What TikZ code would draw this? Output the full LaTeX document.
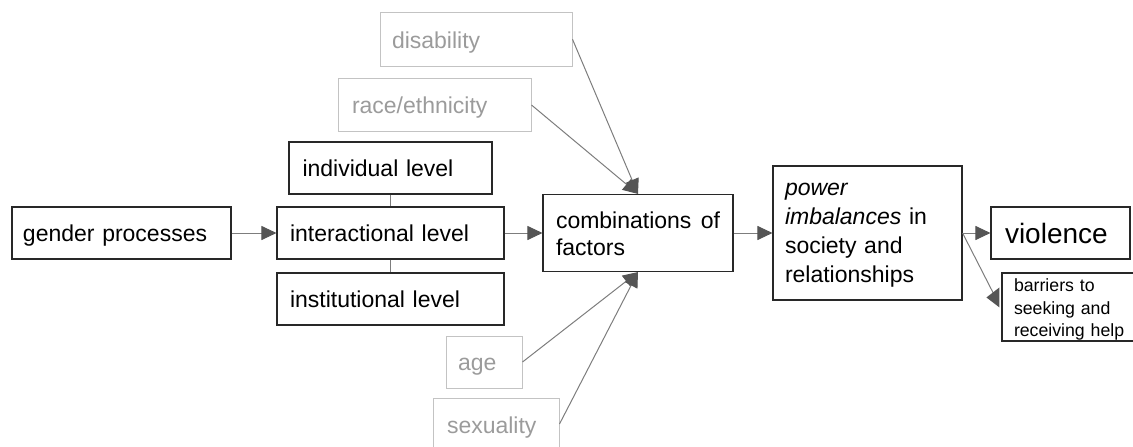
\documentclass[tikz,border=0pt]{standalone}
\usepackage{fontspec}
\setmainfont{Liberation Sans}
\usetikzlibrary{arrows.meta,calc}
\definecolor{boxline}{RGB}{40,40,40}
\definecolor{graytext}{RGB}{155,155,155}
\definecolor{grayline}{RGB}{195,195,195}
\definecolor{connline}{RGB}{125,125,125}
\definecolor{headfill}{RGB}{85,85,85}
\newcommand\fmain{\fontsize{23}{27}\selectfont}
\newcommand\fpower{\fontsize{23}{29.3}\selectfont}
\newcommand\fviol{\fontsize{28}{33}\selectfont}
\newcommand\fsmall{\fontsize{17.7}{22.5}\selectfont}
\begin{document}
\begin{tikzpicture}[x=1pt,y=-1pt,
  box/.style={draw=boxline, line width=1.1pt, rectangle, align=left, inner ysep=0pt, font=\fmain, text=black},
  gbox/.style={box, draw=grayline, line width=1pt, text=graytext},
  one/.style={text height=16pt, text depth=0pt},
  conn/.style={draw=connline, line width=1pt, -{Triangle[length=15pt,width=14pt,color=headfill]}},
  link/.style={draw=connline, line width=1pt}]
\useasboundingbox (0,0) rectangle (1133,447);
\clip (0,0) rectangle (1133,447);

% black boxes
\node[box, one, minimum width=219pt, minimum height=52pt, inner xsep=11pt, text width=197pt] (gender) at (121.5,233) {gender processes};
\node[box, one, minimum width=203pt, minimum height=52pt, inner xsep=13.5pt, text width=176pt] (indiv) at (390.5,168) {individual level};
\node[box, one, minimum width=227pt, minimum height=52pt, inner xsep=13pt, text width=201pt] (inter) at (390.5,233) {interactional level};
\node[box, one, minimum width=227pt, minimum height=52pt, inner xsep=13pt, text width=201pt] (inst) at (390.5,299) {institutional level};
\node[box, minimum width=190pt, minimum height=77pt, inner xsep=13pt, text width=164pt] (comb) at (638,233) {\rule{0pt}{18.6pt}combinations\hfill of\\factors};
\node[box, font=\fpower, minimum width=189pt, minimum height=134pt, inner xsep=12pt, text width=165pt] (power) at (867.5,233) {\rule{0pt}{16.8pt}\textit{power}\\\textit{imbalances} in\\society and\\relationships};
\node[box, font=\fviol, text height=20.6pt, text depth=0pt, minimum width=139pt, minimum height=52pt, inner xsep=14pt, text width=111pt] (viol) at (1060.5,233) {violence};
\node[box, font=\fsmall, minimum width=138pt, minimum height=68pt, inner xsep=12pt, text width=114pt] (bar) at (1071,307) {\rule{0pt}{18pt}barriers to\\seeking and\\receiving help};

% gray boxes
\node[gbox, text height=18pt, text depth=0pt, minimum width=192pt, minimum height=54pt, inner xsep=12pt, text width=168pt] (dis) at (476,39.3) {disability};
\node[gbox, text height=17pt, text depth=0pt, minimum width=193pt, minimum height=53pt, inner xsep=14pt, text width=165pt] (race) at (434.5,105) {race/ethnicity};
\node[gbox, one, minimum width=76pt, minimum height=52pt, inner xsep=12pt, text width=52pt] (age) at (484,362) {age};
\node[gbox, text height=18pt, text depth=0pt, minimum width=126pt, minimum height=52pt, inner xsep=14pt, text width=98pt] (sex) at (496,424) {sexuality};

% connectors
\draw[conn] (gender) -- (inter);
\draw[conn] (inter) -- (comb);
\draw[conn] (comb) -- (power);
\draw[conn] (power) -- (viol);
\draw[link] (indiv) -- (inter);
\draw[link] (inter) -- (inst);
\draw[conn] (dis.east) -- (comb.north);
\draw[conn] (race.east) -- (comb.north);
\draw[conn] (age.east) -- (comb.south);
\draw[conn] (sex.east) -- (comb.south);
\draw[link] (power.east) -- ($(bar.north west)+(-8,21)$);
\fill[headfill] ($(bar.north west)+(-2,15)$) -- ($(bar.north west)+(-15,25)$) -- ($(bar.north west)+(-2,35)$) -- cycle;
\end{tikzpicture}
\end{document}
